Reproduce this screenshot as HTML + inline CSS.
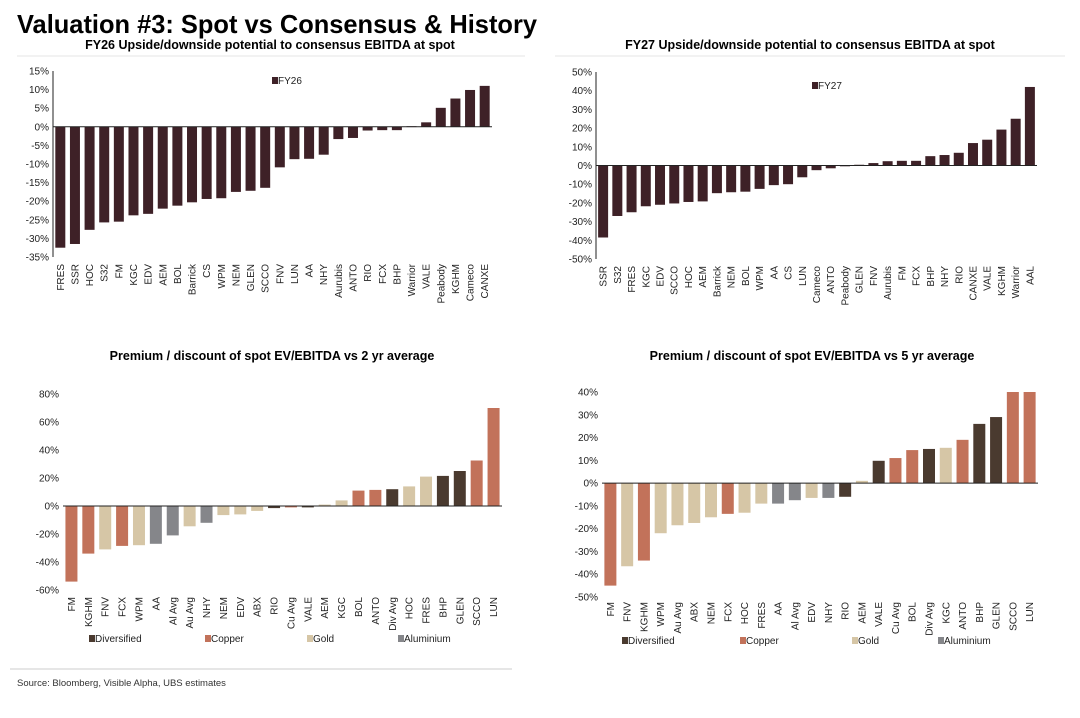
<!DOCTYPE html>
<html><head><meta charset="utf-8"><style>
body{margin:0;background:#fff}
svg{display:block;font-family:"Liberation Sans",sans-serif}
</style></head><body>
<svg id="s" width="1080" height="718" viewBox="0 0 1080 718">
<text x="17" y="33" font-size="26" font-weight="bold" textLength="520" lengthAdjust="spacingAndGlyphs">Valuation #3: Spot vs Consensus &amp; History</text>
<text x="270" y="49" font-size="12.5" font-weight="bold" text-anchor="middle">FY26 Upside/downside potential to consensus EBITDA at spot</text>
<text x="810" y="49" font-size="12.5" font-weight="bold" text-anchor="middle">FY27 Upside/downside potential to consensus EBITDA at spot</text>
<text x="272" y="360" font-size="12.5" font-weight="bold" text-anchor="middle">Premium / discount of spot EV/EBITDA vs 2 yr average</text>
<text x="812" y="360" font-size="12.5" font-weight="bold" text-anchor="middle">Premium / discount of spot EV/EBITDA vs 5 yr average</text>
<line x1="17" y1="56" x2="525" y2="56" stroke="#e6e6e6"/>
<line x1="555" y1="56" x2="1065" y2="56" stroke="#e6e6e6"/>
<line x1="10" y1="669" x2="512" y2="669" stroke="#ccc"/>
<text x="17" y="686" font-size="9.5" fill="#333">Source: Bloomberg, Visible Alpha, UBS estimates</text>
</svg>
<script>
const c1Cats=["FRES","SSR","HOC","S32","FM","KGC","EDV","AEM","BOL","Barrick","CS","WPM","NEM","GLEN","SCCO","FNV","LUN","AA","NHY","Aurubis","ANTO","RIO","FCX","BHP","Warrior","VALE","Peabody","KGHM","Cameco","CANXE"];
const c1Vals=[-32.5,-31.5,-27.7,-25.7,-25.5,-23.8,-23.4,-22,-21.2,-20.3,-19.4,-19.2,-17.5,-17.2,-16.4,-10.9,-8.7,-8.6,-7.5,-3.3,-3,-1,-0.9,-0.9,0.15,1.2,5.1,7.6,9.9,11];
const c1Ticks=[15,10,5,0,-5,-10,-15,-20,-25,-30,-35];
const c2Cats=["SSR","S32","FRES","KGC","EDV","SCCO","HOC","AEM","Barrick","NEM","BOL","WPM","AA","CS","LUN","Cameco","ANTO","Peabody","GLEN","FNV","Aurubis","FM","FCX","BHP","NHY","RIO","CANXE","VALE","KGHM","Warrior","AAL"];
const c2Vals=[-38.5,-27,-25,-21.8,-21,-20.3,-19.5,-19.2,-14.8,-14.3,-14,-12.5,-10.5,-10,-6.3,-2.5,-1.5,-0.3,0.4,1.3,2.3,2.5,2.5,5,5.6,6.8,12,13.8,19.2,25,42];
const c2Ticks=[50,40,30,20,10,0,-10,-20,-30,-40,-50];
const c3Cats=["FM","KGHM","FNV","FCX","WPM","AA","Al Avg","Au Avg","NHY","NEM","EDV","ABX","RIO","Cu Avg","VALE","AEM","KGC","BOL","ANTO","Div Avg","HOC","FRES","BHP","GLEN","SCCO","LUN"];
const c3Vals=[-54,-34,-31,-28.5,-28,-27,-21,-14.5,-12,-6.5,-6,-3.5,-1.5,-1,-1,1,4,11,11.5,12,14,21,21.5,25,32.5,70];
const c3Groups=["cu","cu","au","cu","au","al","al","au","al","au","au","au","div","cu","div","au","au","cu","cu","div","au","au","div","div","cu","cu"];
const c3Ticks=[80,60,40,20,0,-20,-40,-60];
const c4Cats=["FM","FNV","KGHM","WPM","Au Avg","ABX","NEM","FCX","HOC","FRES","AA","Al Avg","EDV","NHY","RIO","AEM","VALE","Cu Avg","BOL","Div Avg","KGC","ANTO","BHP","GLEN","SCCO","LUN"];
const c4Vals=[-45,-36.5,-34,-22,-18.5,-17.5,-15,-13.5,-13,-9,-9,-7.5,-6.5,-6.5,-6,1,9.8,11,14.5,15,15.5,19,26,29,40,40];
const c4Groups=["cu","au","cu","au","au","au","au","cu","au","au","al","al","au","al","div","au","div","cu","cu","div","au","cu","div","div","cu","cu"];
const c4Ticks=[40,30,20,10,0,-10,-20,-30,-40,-50];
const legendNames=["Diversified","Copper","Gold","Aluminium"];

const COL={div:"#4a3a2f",cu:"#c2725a",au:"#d6c6a6",al:"#85868a",one:"#3e2127"};
const NS="http://www.w3.org/2000/svg";
const svg=document.getElementById('s');
function mk(tag,attrs,parent){const e=document.createElementNS(NS,tag);for(const k in attrs)e.setAttribute(k,attrs[k]);(parent||svg).appendChild(e);return e;}

function chart(id,cats,vals,groups,ticks,x0,x1,yTop,yBot,vTop,vBot,fmt,barW,labelY){
  const g=mk('g',{});
  
  
  const y=v=>yTop+(vTop-v)/(vTop-vBot)*(yBot-yTop);
  const step=(x1-x0)/cats.length;
  ticks.forEach(t=>{
    const tx=mk('text',{x:x0-4,y:y(t)+3.5,'font-size':10,'text-anchor':'end',fill:'#222'},g);
    tx.textContent=fmt(t);
    
    
  });
  cats.forEach((c,i)=>{
    const v=vals[i];const cx=x0+step*(i+0.5);
    const r=mk('rect',{x:cx-barW/2,y:Math.min(y(v),y(0)),width:barW,height:Math.max(0.8,Math.abs(y(v)-y(0))),fill:groups?COL[groups[i]]:COL.one},g);
    
    
    const t=mk('text',{x:0,y:0,'font-size':10,'text-anchor':'end',fill:'#222',transform:`translate(${cx+3.5},${labelY}) rotate(-90)`},g);
    t.textContent=c;
    
    
  });
  if(!groups){
    const a=mk('line',{x1:x0,y1:yTop,x2:x0,y2:yBot,stroke:'#222','stroke-width':1},g);
    
    
  }
  const z=mk('line',{x1:x0,y1:y(0),x2:x1,y2:y(0),stroke:'#222','stroke-width':1},g);
  
  
}
const pct=t=>t+'%';
chart('chart-fy26',c1Cats,c1Vals,null,c1Ticks,53,492,71,257,15,-35,pct,10,264);
chart('chart-fy27',c2Cats,c2Vals,null,c2Ticks,596,1037,72,259,50,-50,pct,10,266);
chart('chart-2yr',c3Cats,c3Vals,c3Groups,c3Ticks,63,502,394,590,80,-60,pct,12,597);
chart('chart-5yr',c4Cats,c4Vals,c4Groups,c4Ticks,602,1038,392,597,40,-50,pct,12,602);

function legend(items,xs,y){
  items.forEach((it,i)=>{
    const g=mk('g',{});
    
    
    mk('rect',{x:xs[i],y:y-7,width:6,height:7,fill:it.c},g);
    const t=mk('text',{x:xs[i]+6,y:y,'font-size':10,fill:'#222'},g);
    t.textContent=it.n;
  });
}
legend([{n:'FY26',c:COL.one}],[272],84);
legend([{n:'FY27',c:COL.one}],[812],89);
const legItems=legendNames.map((n,i)=>({n:n,c:[COL.div,COL.cu,COL.au,COL.al][i]}));
legend(legItems,[89,205,307,398],642);
legend(legItems,[622,740,852,938],644);
</script>
</body></html>
